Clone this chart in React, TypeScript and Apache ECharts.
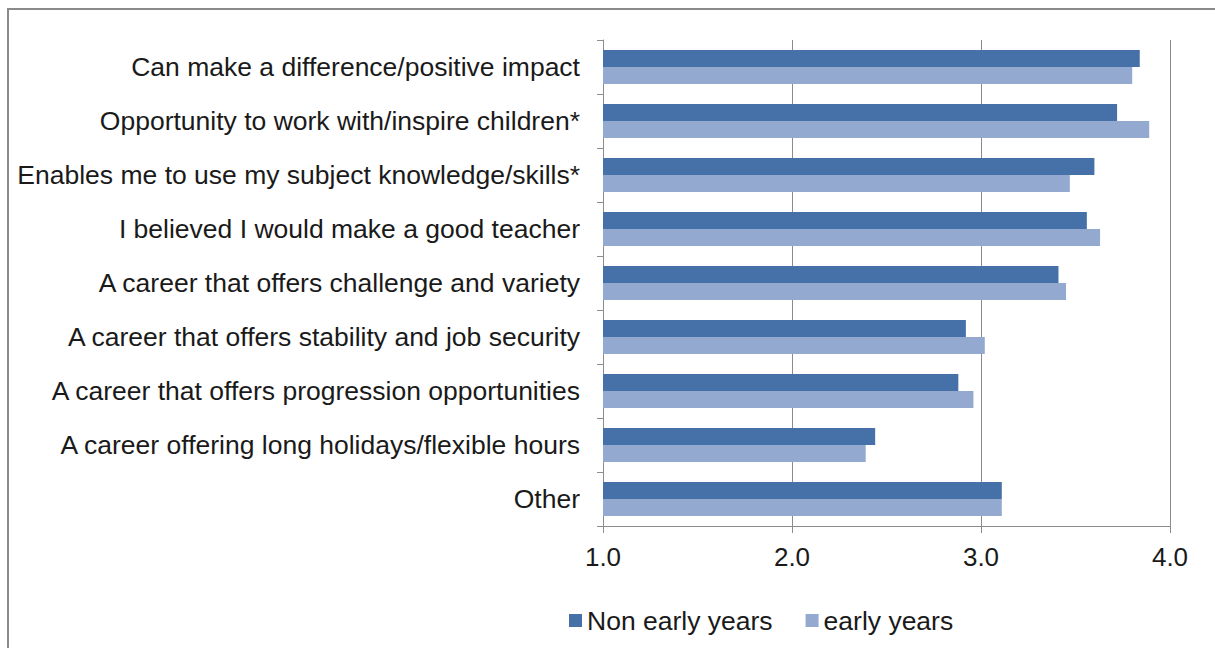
import React, { useEffect, useRef } from "react";
import * as echarts from "echarts";

const categories = [
  "Can make a difference/positive impact",
  "Opportunity to work with/inspire children*",
  "Enables me to use my subject knowledge/skills*",
  "I believed I would make a good teacher",
  "A career that offers challenge and variety",
  "A career that offers stability and job security",
  "A career that offers progression opportunities",
  "A career offering long holidays/flexible hours",
  "Other",
];
const nonEarlyYears = [3.84, 3.72, 3.6, 3.56, 3.41, 2.92, 2.88, 2.44, 3.11];
const earlyYears = [3.8, 3.89, 3.47, 3.63, 3.45, 3.02, 2.96, 2.39, 3.11];
const seriesNames = ["Non early years", "early years"];
const xTicks = { min: 1, max: 4, interval: 1 };

export default function App() {
  const ref = useRef<HTMLDivElement>(null);
  useEffect(() => {
    if (!ref.current) return;
    const chart = echarts.init(ref.current, null, { renderer: "svg" });
    const font = "'Liberation Sans', Arial, sans-serif";
    chart.setOption({
      animation: false,
      backgroundColor: "#ffffff",
      textStyle: { fontFamily: font },
      graphic: [
        {
          type: "rect",
          shape: { x: 8, y: 9, width: 1230, height: 660 },
          style: { fill: "none", stroke: "#8a8a8a", lineWidth: 2 },
          silent: true,
        },
      ],
      grid: { left: 603, right: 45, top: 40, bottom: 122 },
      legend: {
        data: seriesNames,
        left: 564,
        top: 602,
        itemWidth: 13,
        itemHeight: 13,
        itemGap: 33,
        icon: "rect",
        textStyle: { fontSize: 26.5, color: "#1a1a1a", fontFamily: font },
      },
      xAxis: {
        type: "value",
        min: xTicks.min,
        max: xTicks.max,
        interval: xTicks.interval,
        axisLine: { show: true, lineStyle: { color: "#8c8c8c", width: 1 } },
        axisTick: { show: true, length: 7, lineStyle: { color: "#8c8c8c" } },
        axisLabel: {
          fontSize: 26,
          color: "#1a1a1a",
          margin: 18,
          formatter: (v: number) => v.toFixed(1),
        },
        splitLine: { show: true, lineStyle: { color: "#8c8c8c", width: 1 } },
      },
      yAxis: {
        type: "category",
        data: categories,
        inverse: true,
        axisLine: { show: true, lineStyle: { color: "#8c8c8c", width: 1 } },
        axisTick: { show: true, length: 6, lineStyle: { color: "#8c8c8c" } },
        axisLabel: { fontSize: 26.5, color: "#1a1a1a", margin: 23 },
      },
      series: [
        {
          name: seriesNames[0],
          type: "bar",
          data: nonEarlyYears,
          barWidth: 17,
          barGap: "0%",
          itemStyle: { color: "#4670A8" },
        },
        {
          name: seriesNames[1],
          type: "bar",
          data: earlyYears,
          barWidth: 17,
          barGap: "0%",
          itemStyle: { color: "#93A9D0" },
        },
      ],
    });
    return () => chart.dispose();
  }, []);
  return (
    <div
      ref={ref}
      style={{ position: "fixed", left: 0, top: 0, width: 1215, height: 648 }}
    />
  );
}
